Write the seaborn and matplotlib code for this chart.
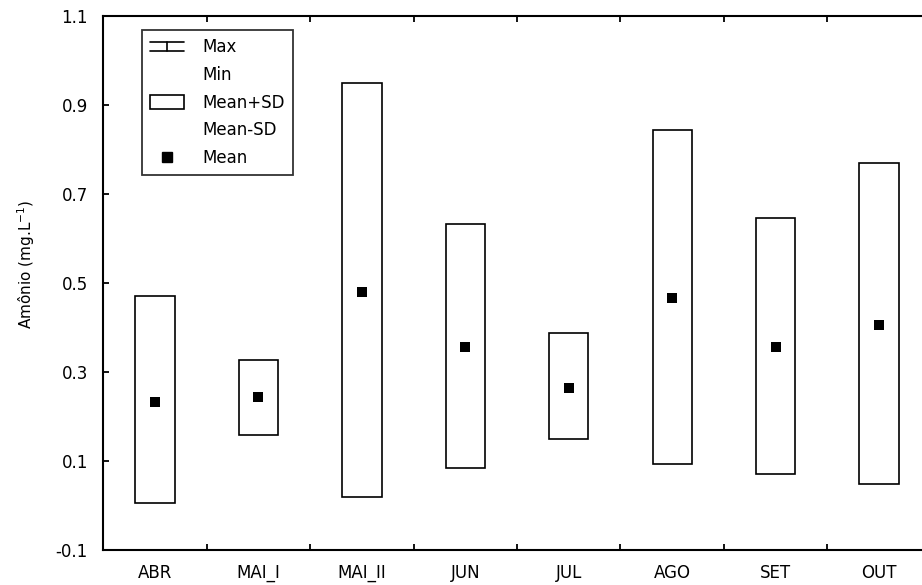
import numpy as np
import pandas as pd
import seaborn as sns
import matplotlib
matplotlib.use("Agg")
import matplotlib.pyplot as plt
from matplotlib.lines import Line2D
from matplotlib.patches import Rectangle
from matplotlib.legend_handler import HandlerBase

# Monthly ammonium summary (mg/L)
months = ["ABR", "MAI_I", "MAI_II", "JUN", "JUL", "AGO", "SET", "OUT"]
mean_vals = [0.233, 0.243, 0.479, 0.356, 0.264, 0.466, 0.356, 0.405]
upper_sd = [0.470, 0.326, 0.948, 0.633, 0.388, 0.842, 0.646, 0.768]   # Mean+SD
lower_sd = [0.006, 0.159, 0.018, 0.084, 0.150, 0.093, 0.071, 0.049]   # Mean-SD

y_ticks = [-0.1, 0.1, 0.3, 0.5, 0.7, 0.9, 1.1]

df = pd.DataFrame({"month": months, "mean": mean_vals,
                   "upper": upper_sd, "lower": lower_sd})

sns.set_theme(style="white", rc={"text.color": "black",
                                 "axes.labelcolor": "black",
                                 "xtick.color": "black",
                                 "ytick.color": "black"})
plt.rcParams["font.family"] = ["DejaVu Sans"]
FS = 12

fig = plt.figure(figsize=(9.22, 5.85), dpi=100)
ax = fig.add_axes([0.1120, 0.0598, 0.8975, 0.9137])

# Mean +/- SD boxes
ax.bar(df["month"], df["upper"] - df["lower"], bottom=df["lower"],
       width=0.38, facecolor="none", edgecolor="black", linewidth=1.2,
       zorder=2)

# Means
sns.scatterplot(data=df, x="month", y="mean", marker="s", s=44,
                color="black", edgecolor="black", linewidth=0, ax=ax,
                zorder=3, legend=False)

ax.set_xlim(-0.5, len(months) - 0.5)
ax.set_ylim(-0.1, 1.1)
ax.set_yticks(y_ticks)
ax.set_yticklabels([f"{v:.1f}" for v in y_ticks])
ax.set_xlabel("")
ax.set_ylabel("Amônio (mg.L$^{-1}$)", fontsize=11, color="black")
ax.yaxis.set_label_coords(-0.080, 0.535)

# Ticks: category labels without marks, minor marks between categories
ax.set_xticks(range(len(months)))
ax.set_xticklabels(months)
ax.set_xticks(np.arange(0.5, len(months) - 0.5, 1.0), minor=True)
ax.tick_params(axis="x", which="major", length=0, pad=10, labelsize=FS,
               colors="black")
ax.tick_params(axis="x", which="minor", direction="in", length=4, width=1.3,
               top=True, bottom=True, color="black")
ax.tick_params(axis="y", which="major", direction="in", length=4, width=1.3,
               left=True, right=False, pad=11, labelsize=FS, colors="black")

for side in ["left", "bottom", "top", "right"]:
    ax.spines[side].set_visible(True)
    ax.spines[side].set_color("black")
    ax.spines[side].set_linewidth(1.5)


class RangeHandler(HandlerBase):
    """I-beam glyph for the Max/Min legend entry."""
    def create_artists(self, legend, orig_handle, xdescent, ydescent,
                       width, height, fontsize, trans):
        x0, x1 = -xdescent, -xdescent + width
        xm = (x0 + x1) / 2
        yt = -ydescent + height * 0.85
        yb = -ydescent + height * 0.20
        lines = [
            Line2D([x0, x1], [yt, yt], color="black", lw=1.2),
            Line2D([xm, xm], [yb, yt], color="black", lw=1.2),
            Line2D([x0, x1], [yb, yb], color="black", lw=1.2),
        ]
        for ln in lines:
            ln.set_transform(trans)
        return lines


range_handle = Line2D([], [], color="black")
blank = Line2D([], [], linestyle="none", marker=None)
box_handle = Rectangle((0, 0), 1, 1, facecolor="white", edgecolor="black",
                       linewidth=1.2)
mean_handle = Line2D([], [], linestyle="none", marker="s", markersize=7,
                     color="black")

leg = ax.legend([range_handle, blank, box_handle, blank, mean_handle],
                ["Max", "Min", "Mean+SD", "Mean-SD", "Mean"],
                handler_map={range_handle: RangeHandler()},
                loc="upper left", bbox_to_anchor=(0.047, 0.973),
                borderaxespad=0, frameon=True, fancybox=False,
                edgecolor="black", fontsize=FS, handlelength=2.0,
                handleheight=0.9, handletextpad=1.1, labelspacing=0.58,
                borderpad=0.5)
leg.get_frame().set_linewidth(1.3)
for txt in leg.get_texts():
    txt.set_color("black")

fig.savefig("out.png", dpi=100, facecolor="white")
